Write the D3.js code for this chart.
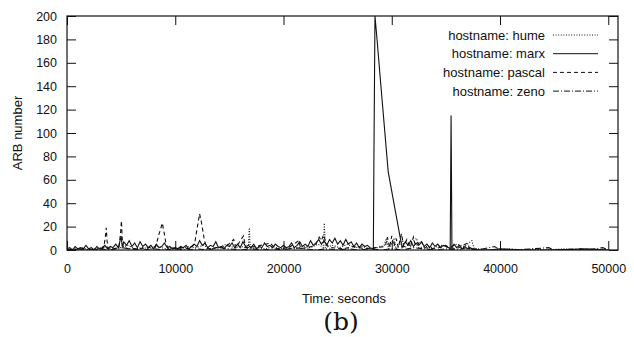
<!DOCTYPE html>
<html lang="en">
<head>
  <meta charset="UTF-8">
  <title>ARB number over time</title>
  <script src="https://d3js.org/d3.v7.min.js"></script>
  <style>
    body {
      margin: 0;
      padding: 0;
      background: #fff;
    }
    svg text {
      font-family: "Liberation Sans", Arial, sans-serif;
      font-size: 13px;
      fill: #111;
    }
    .caption {
      font-family: "DejaVu Serif", "Liberation Serif", serif !important;
      font-size: 25px !important;
    }
  </style>
</head>
<body>
<svg id="chart" width="634" height="337"></svg>
<script>
const hostnames = ["hume", "marx", "pascal", "zeno"];
const xTicks = [0, 10000, 20000, 30000, 40000, 50000];
const yTicks = [0, 20, 40, 60, 80, 100, 120, 140, 160, 180, 200];

// [time (s), ARB number]
const hume = [
  [0,1],[700,0],[1400,2],[2100,0],[2800,1],[3500,3],[4200,1],[4900,2],[5600,4],[6300,1],
  [7000,2],[7700,1],[8400,3],[9100,1],[9800,2],[10500,1],[11200,3],[11900,2],[12600,4],[13300,1],
  [14000,2],[14700,5],[15400,2],[16100,3],[16750,1],[16840,19],[16930,1],[17600,2],[18300,1],[19000,3],
  [19700,1],[20400,2],[21100,1],[21800,3],[22500,2],[23200,5],[23680,2],[23770,23],[23860,2],[24500,4],
  [25200,2],[25900,5],[26600,2],[27300,3],[28000,1],[28700,2],[29300,4],[29500,10],[29700,1],[30200,9],
  [30400,1],[31000,8],[31200,2],[32300,10],[32500,2],[33200,3],[33900,2],[34600,4],[35300,2],[36000,5],
  [36700,3],[37400,8],[37600,1],[38300,1],[39000,0],[41000,1],[42000,0],[43500,1],[44000,0],[46000,1],
  [47000,0],[50000,0]
];

const marx = [
  [0,1],[250,2],[500,0],[750,3],[1000,1],[1250,2],[1500,1],[1750,4],[2000,1],[2250,2],
  [2500,0],[2750,3],[3000,1],[3250,2],[3500,4],[3750,1],[4000,3],[4250,2],[4500,5],[4750,2],
  [5000,12],[5100,3],[5250,7],[5500,4],[5750,8],[6000,3],[6250,6],[6500,2],[6750,7],[7000,3],
  [7250,5],[7500,2],[7750,4],[8000,1],[8250,5],[8500,2],[8750,3],[9000,6],[9250,2],[9500,3],
  [9750,1],[10000,2],[10250,1],[10500,3],[10750,2],[11000,4],[11250,1],[11500,3],[11750,5],[12000,3],
  [12250,8],[12500,4],[12750,6],[13000,2],[13250,4],[13500,3],[13750,7],[14000,2],[14250,3],[14500,1],
  [14750,4],[15000,3],[15250,6],[15500,2],[15750,5],[16000,2],[16250,7],[16500,3],[16750,4],[17000,2],
  [17250,5],[17500,1],[17750,3],[18000,2],[18250,6],[18500,3],[18750,4],[19000,2],[19250,5],[19500,3],
  [19750,2],[20000,4],[20250,2],[20500,3],[20750,6],[21000,2],[21250,4],[21500,7],[21750,3],[22000,5],
  [22250,3],[22500,8],[22750,4],[23000,6],[23250,9],[23500,5],[23750,8],[24000,4],[24250,9],[24500,6],
  [24750,10],[25000,5],[25250,8],[25500,4],[25750,9],[26000,5],[26250,7],[26500,3],[26750,6],[27000,2],
  [27250,5],[27500,3],[27750,4],[28000,2],[28250,1],[28300,0],[28350,75],[28450,200],[28650,179],[29000,140],
  [29670,67],[30300,35],[30950,2],[31250,7],[31500,4],[31750,8],[32000,3],[32250,6],[32500,4],[32750,7],
  [33000,3],[33250,5],[33500,2],[33750,6],[34000,3],[34250,5],[34500,2],[34750,4],[35000,3],[35250,2],
  [35400,1],[35480,115],[35560,2],[35750,5],[36000,2],[36250,4],[36500,1],[36750,3],[37000,1],[37250,2],
  [37500,0],[37750,1],[38000,0],[39000,0],[40000,1],[42000,0],[45000,0],[48000,1],[50000,0]
];

const pascal = [
  [0,0],[500,1],[1000,0],[1500,1],[2000,0],[2500,1],[3000,0],[3400,2],[3550,12],[3630,19],
  [3700,8],[3800,1],[4300,1],[4800,2],[4950,15],[5030,25],[5100,10],[5200,2],[5700,1],[6500,1],
  [7500,2],[8200,3],[8450,12],[8650,18],[8800,23],[8950,16],[9150,5],[9400,1],[10500,2],[11400,1],
  [11800,6],[12050,20],[12250,31],[12450,22],[12700,8],[12950,1],[13800,2],[14700,3],[15400,9],[15600,2],
  [16300,12],[16500,2],[17500,3],[18800,6],[19200,1],[20500,2],[21400,8],[21600,1],[22600,3],[23000,5],
  [23300,11],[23500,8],[23700,13],[24000,4],[24400,2],[25500,1],[26500,3],[27500,1],[28500,2],[29400,3],
  [29600,11],[29800,2],[30000,12],[30200,3],[30400,10],[30600,2],[30900,14],[31100,3],[31400,9],[31700,2],
  [32000,11],[32200,3],[32700,8],[33000,2],[34000,1],[35000,4],[35300,2],[36000,1],[37000,6],[37200,1],
  [38000,0]
];

const zeno = [
  [0,0],[1000,1],[2000,0],[3000,1],[4000,0],[5000,2],[6000,1],[7000,0],[8000,1],[9000,0],
  [10000,1],[11000,0],[12000,1],[13000,0],[14000,2],[15000,1],[16000,0],[17000,1],[18000,0],[19000,1],
  [20000,0],[21000,2],[22000,1],[23000,0],[24000,1],[25000,0],[26000,1],[27000,0],[28000,1],[29000,0],
  [30000,1],[31000,0],[32000,2],[33000,1],[34000,0],[35000,1],[36000,0],[37000,2],[38000,0],[39500,3],
  [40000,0],[41000,0],[43000,1],[44500,2],[45000,0],[47500,1],[48000,0],[49500,2],[50000,0]
];

const seriesData = [hume, marx, pascal, zeno];
const dashes = ["1,1.6", null, "4,3", "6,2,1,2"];

const svg = d3.select("#chart");
const plotLeft = 67, plotRight = 618, plotTop = 16, plotBottom = 250;

const x = d3.scaleLinear().domain([0, 50900]).range([plotLeft, plotRight]);
const y = d3.scaleLinear().domain([0, 200]).range([plotBottom, plotTop]);

svg.append("clipPath").attr("id", "plotArea")
  .append("rect")
  .attr("x", plotLeft).attr("y", plotTop)
  .attr("width", plotRight - plotLeft).attr("height", plotBottom - plotTop);

const line = d3.line().x(d => x(d[0])).y(d => y(d[1]));

const plot = svg.append("g").attr("clip-path", "url(#plotArea)");
seriesData.forEach((data, i) => {
  plot.append("path")
    .datum(data)
    .attr("d", line)
    .attr("fill", "none")
    .attr("stroke", "#111")
    .attr("stroke-width", 1.1)
    .attr("stroke-dasharray", dashes[i]);
});

// axes: inward ticks on all four sides, labels on left and bottom
function styleAxis(g) {
  g.select(".domain").remove();
  g.selectAll(".tick line").attr("stroke", "#111");
}

svg.append("g")
  .attr("transform", `translate(${plotLeft},0)`)
  .call(d3.axisLeft(y).tickValues(yTicks).tickSizeInner(-9).tickSizeOuter(0).tickPadding(10))
  .call(styleAxis);

svg.append("g")
  .attr("transform", `translate(${plotRight},0)`)
  .call(d3.axisRight(y).tickValues(yTicks).tickSizeInner(-9).tickSizeOuter(0).tickFormat(""))
  .call(styleAxis);

svg.append("g")
  .attr("transform", `translate(0,${plotBottom})`)
  .call(d3.axisBottom(x).tickValues(xTicks).tickSizeInner(-9).tickSizeOuter(0).tickPadding(14).tickFormat(d3.format("d")))
  .call(styleAxis);

svg.append("g")
  .attr("transform", `translate(0,${plotTop})`)
  .call(d3.axisTop(x).tickValues(xTicks).tickSizeInner(-9).tickSizeOuter(0).tickFormat(""))
  .call(styleAxis);

svg.selectAll(".tick text").style("font-size", "12.5px").attr("fill", "#111");

svg.append("rect")
  .attr("x", plotLeft).attr("y", plotTop)
  .attr("width", plotRight - plotLeft).attr("height", plotBottom - plotTop)
  .attr("fill", "none")
  .attr("stroke", "#111")
  .attr("stroke-width", 1.2);

// axis titles
svg.append("text")
  .attr("transform", `translate(22,133) rotate(-90)`)
  .attr("text-anchor", "middle")
  .text("ARB number");

svg.append("text")
  .attr("x", 344).attr("y", 303)
  .attr("text-anchor", "middle")
  .text("Time: seconds");

svg.append("text")
  .attr("class", "caption")
  .attr("x", 341).attr("y", 330)
  .attr("text-anchor", "middle")
  .text("(b)");

// legend
const legend = svg.append("g");
hostnames.forEach((name, i) => {
  const ly = 35 + i * 18.7;
  legend.append("text")
    .attr("x", 545).attr("y", ly)
    .attr("dy", "0.35em")
    .attr("text-anchor", "end")
    .text(`hostname: ${name}`);
  legend.append("line")
    .attr("x1", 553).attr("x2", 598)
    .attr("y1", ly).attr("y2", ly)
    .attr("stroke", "#111")
    .attr("stroke-width", 1)
    .attr("stroke-dasharray", dashes[i]);
});
</script>
</body>
</html>
